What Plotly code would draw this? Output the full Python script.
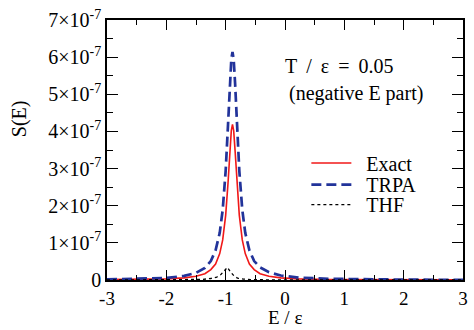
import plotly.graph_objects as go
import numpy as np

# Energy grid (E / epsilon)
E = [-3.0, -2.5, -2.0, -1.7, -1.5, -1.35, -1.25, -1.17, -1.10, -1.05, -1.0, -0.96, -0.93, -0.905,
     -0.885, -0.865, -0.84, -0.81, -0.77, -0.72, -0.67, -0.60, -0.52, -0.42, -0.27, -0.07,
     0.23, 0.73, 1.5, 2.2, 3.0]

# S(E) in units of 1e-7
exact_e7 = [0.009, 0.015, 0.031, 0.058, 0.10, 0.17, 0.28, 0.43, 0.71, 1.08, 1.74, 2.62, 3.45, 4.02,
            4.19, 4.02, 3.45, 2.62, 1.74, 1.08, 0.71, 0.43, 0.28, 0.17, 0.10, 0.058,
            0.031, 0.015, 0.007, 0.004, 0.003]
trpa_e7 = [0.017, 0.028, 0.055, 0.11, 0.19, 0.325, 0.51, 0.80, 1.27, 1.89, 2.94, 4.19, 5.26, 5.94,
           6.14, 5.94, 5.26, 4.19, 2.94, 1.89, 1.27, 0.80, 0.51, 0.34, 0.21, 0.12,
           0.065, 0.032, 0.013, 0.008, 0.005]

E_thf = [-3.0, -1.6, -1.4, -1.25, -1.15, -1.08, -1.02, -0.97, -0.92, -0.86, -0.8, -0.7, -0.55, -0.4, 0.0, 3.0]
thf_e7 = [0.0, 0.005, 0.015, 0.04, 0.08, 0.15, 0.25, 0.34, 0.22, 0.11, 0.05, 0.025, 0.01, 0.005, 0.0, 0.0]

x_ticks = [-3, -2, -1, 0, 1, 2, 3]
x_ticktext = ["-3", "-2", "-1", "0", "1", "2", "3"]
y_tick_mult = [0, 1, 2, 3, 4, 5, 6, 7]
y_ticks = [m * 1e-7 for m in y_tick_mult]
y_ticktext = ["0"] + [f"{m}×10<sup>-7</sup>" for m in y_tick_mult[1:]]

SCALE = 1e-7
font = '"Liberation Serif", "Times New Roman", serif'
FS = 20

fig = go.Figure()
fig.add_trace(go.Scatter(x=E, y=np.array(exact_e7) * SCALE, mode="lines", name="\u2002Exact", legend="legend",
                         line=dict(color="#f01818", width=1.6)))
fig.add_trace(go.Scatter(x=E, y=np.array(trpa_e7) * SCALE, mode="lines", name="\u2002TRPA", legend="legend2",
                         line=dict(color="#22339a", width=2.7, dash="10px,5px")))
fig.add_trace(go.Scatter(x=E_thf, y=np.array(thf_e7) * SCALE, mode="lines", name="\u2002THF", legend="legend3",
                         line=dict(color="black", width=1.3, dash="dot")))

leg = dict(x=0.56, xanchor="left", yanchor="middle", bgcolor="rgba(0,0,0,0)",
           font=dict(family=font, size=FS), itemwidth=40)

fig.update_layout(
    width=474, height=330,
    margin=dict(l=107, r=6, t=20, b=50),
    paper_bgcolor="white", plot_bgcolor="white",
    font=dict(family=font, size=FS, color="black"),
    showlegend=True,
    legend=dict(leg, y=0.45),
    legend2=dict(leg, y=0.367),
    legend3=dict(leg, y=0.29),
    annotations=[
        dict(text="T\u2009 /\u2009 ε\u2009 =\u2009 0.05", x=0.493, y=0.823, xref="paper", yref="paper",
             xanchor="left", yanchor="middle", showarrow=False, font=dict(family=font, size=FS)),
        dict(text="(negative E part)", x=0.507, y=0.719, xref="paper", yref="paper",
             xanchor="left", yanchor="middle", showarrow=False, font=dict(family=font, size=FS)),
        dict(text="E / ε", x=0.5, y=-0.19, xref="paper", yref="paper", borderpad=0,
             xanchor="center", yanchor="bottom", showarrow=False, font=dict(family=font, size=19)),
        dict(text="S(E)", x=-0.246, y=0.62, xref="paper", yref="paper", textangle=-90,
             xanchor="center", yanchor="middle", showarrow=False, font=dict(family=font, size=FS)),
    ],
)
fig.update_xaxes(
    range=[-3, 3], tickvals=x_ticks, ticktext=x_ticktext, ticks="inside", ticklen=10, tickwidth=1.2,
    tickcolor="black", showline=True, linecolor="black", linewidth=1.5, mirror="ticks",
    showgrid=False, zeroline=False,
    minor=dict(dtick=0.5, ticks="inside", ticklen=5, tickcolor="black", showgrid=False),
    tickfont=dict(family=font, size=19),
)
fig.update_yaxes(
    range=[0, 7e-7], tickvals=y_ticks, ticktext=y_ticktext, ticks="inside", ticklen=11, tickwidth=1.2,
    tickcolor="black", showline=True, linecolor="black", linewidth=1.5, mirror="ticks",
    showgrid=False, zeroline=False,
    minor=dict(dtick=0.5e-7, ticks="inside", ticklen=6, tickcolor="black", showgrid=False),
    tickfont=dict(family=font, size=FS),
)
fig.write_html("out.html", config={"displayModeBar": False},
               post_script="document.body.style.margin='0px';")
